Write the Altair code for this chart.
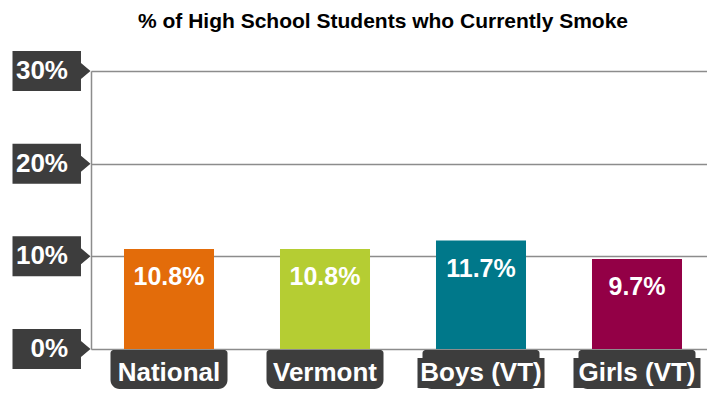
import altair as alt
import pandas as pd

categories = ["National", "Vermont", "Boys (VT)", "Girls (VT)"]
values = [10.8, 10.8, 11.7, 9.7]
colors = ["#E36C0A", "#B5CD33", "#00788A", "#930046"]
tick_values = [0, 10, 20, 30]
tick_labels = ["0%", "10%", "20%", "30%"]
title_text = "% of High School Students who Currently Smoke"

df = pd.DataFrame({"cat": categories, "val": values,
                   "label": [f"{v:.1f}%" for v in values]})
ticks = pd.DataFrame({"v": tick_values, "t": tick_labels})

FONT = "Liberation Sans"
DARK = "#3d3d3d"
GRID = "#8c8c8c"
W, H = 616, 278

xs = alt.X("cat:N", sort=categories,
           scale=alt.Scale(range=[0, 624], paddingInner=0.423, paddingOuter=0.2115),
           axis=None)
ys = alt.Scale(domain=[0, 30], nice=False)

base = alt.Chart(df)

bars = base.mark_bar().encode(
    x=xs,
    y=alt.Y("val:Q", scale=ys,
            axis=alt.Axis(values=tick_values, labels=False, ticks=False, title=None,
                          grid=True, gridColor=GRID, gridWidth=1.5, gridOpacity=1,
                          domain=True, domainColor=GRID, domainWidth=1.5)),
    color=alt.Color("cat:N", sort=categories,
                    scale=alt.Scale(domain=categories, range=colors), legend=None),
)

bar_text = base.mark_text(font=FONT, fontSize=25, fontWeight="bold", color="white",
                          baseline="middle", dy=28).encode(
    x=xs, y=alt.Y("val:Q", scale=ys), text="label:N")

label_box = base.mark_bar(width=117, color=DARK, cornerRadiusTopLeft=3,
                          cornerRadiusTopRight=3, cornerRadiusBottomLeft=9,
                          cornerRadiusBottomRight=9).encode(
    x=xs, y=alt.value(279), y2=alt.value(318))

# dark backing behind the longer labels that overflow their boxes
label_bg = base.transform_filter(
    "indexof(datum.cat, '(VT)') >= 0"
).mark_bar(width=127, color=DARK).encode(
    x=xs, y=alt.value(287), y2=alt.value(317))

label_text = base.mark_text(font=FONT, fontSize=26, fontWeight="bold", color="white",
                            baseline="middle").encode(
    x=xs, y=alt.value(302), text="cat:N")

tag_path = "M-1,-0.513 L0.756,-0.513 L0.756,-0.205 L1,0 L0.756,0.205 L0.756,0.513 L-1,0.513 Z"
tags = alt.Chart(ticks).mark_point(shape=tag_path, size=6084, filled=True,
                                   color=DARK, opacity=1, strokeWidth=0).encode(
    x=alt.value(-39.5), y=alt.Y("v:Q", scale=ys))

tag_text = alt.Chart(ticks).mark_text(font=FONT, fontSize=26, fontWeight="bold",
                                      color="white", align="right",
                                      baseline="middle").encode(
    x=alt.value(-23), y=alt.Y("v:Q", scale=ys), text="t:N")

chart = alt.layer(bars, bar_text, label_box, label_bg, label_text, tags, tag_text).properties(
    width=W, height=H,
    autosize=alt.AutoSizeParams(type="none"),
    padding={"left": 83, "top": 63, "right": 0, "bottom": 40},
    title=alt.TitleParams(title_text, font=FONT, fontSize=21, fontWeight="bold",
                          color="black", anchor="middle", frame="group",
                          offset=19, dx=-16),
).configure_view(stroke=None).configure(background="white")

chart.save("out.html", embed_options={"renderer": "svg", "actions": False})
